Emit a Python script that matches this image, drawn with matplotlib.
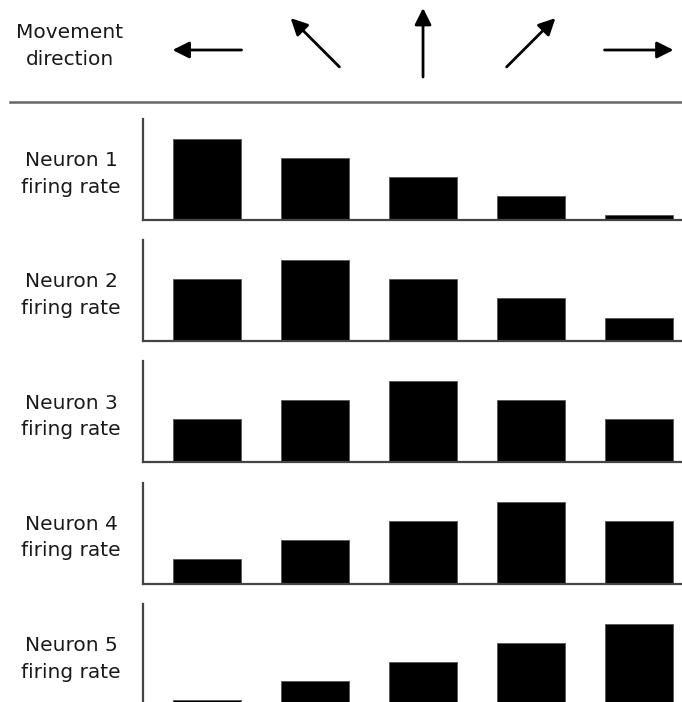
import numpy as np
import matplotlib
matplotlib.use('Agg')
import matplotlib.pyplot as plt
from matplotlib.lines import Line2D


DIRECTIONS = [180, 135, 90, 45, 0]   # movement direction, degrees
NEURONS = ['Neuron 1', 'Neuron 2', 'Neuron 3', 'Neuron 4', 'Neuron 5']
RATES = [
    [81, 62, 43, 24, 5],
    [62, 81, 62, 43, 23],
    [43, 62, 81, 62, 43],
    [25, 44, 63, 82, 63],
    [5, 24, 43, 62, 81],
]

W, H = 682, 702


def px_axes(fig, left, top, right, bottom):
    # axes from image pixel box (y measured from top)
    return fig.add_axes([left / W, 1 - bottom / H, (right - left) / W, (bottom - top) / H])


def main():
    fig = plt.figure(figsize=(W / 100, H / 100), dpi=100)
    plt.rcParams['font.family'] = 'DejaVu Sans'

    axes = []
    for i, (name, rates) in enumerate(zip(NEURONS, RATES)):
        base = 220 + 121.2 * i
        ax = px_axes(fig, 143, base - 101, 682, base)
        x = np.arange(len(rates))
        ax.bar(x, rates, width=0.63, color='black', edgecolor='#555555', linewidth=0.6)
        ax.set_xlim(-0.593, 4.398)
        ax.set_ylim(0, 101)
        for s in ('top', 'right'):
            ax.spines[s].set_visible(False)
        for s in ('left', 'bottom'):
            ax.spines[s].set_color('#444444')
            ax.spines[s].set_linewidth(1.6)
        ax.set_xticks([])
        ax.set_yticks([])
        fig.text(71 / W, 1 - (base - 46) / H, name + '\nfiring rate', ha='center', va='center',
                 fontsize=14.5, color='#1a1a1a', linespacing=1.5)
        axes.append(ax)

    fig.canvas.draw()

    # header: movement direction arrows above each column
    fig.text(70 / W, 1 - 46 / H, 'Movement\ndirection', ha='center', va='center',
             fontsize=14.5, color='#1a1a1a', linespacing=1.5)
    length = 69
    for i, ang in enumerate(DIRECTIONS):
        cx = axes[0].transData.transform((i, 0))[0]
        cy = H - (50 if ang in (0, 180) else 42.5)
        dx = length / 2 * np.cos(np.radians(ang))
        dy = length / 2 * np.sin(np.radians(ang))
        fig.add_artist(plt.Annotation(
            '', xy=(cx + dx, cy + dy), xytext=(cx - dx, cy - dy),
            xycoords='figure pixels', textcoords='figure pixels',
            arrowprops=dict(arrowstyle='-|>,head_length=1.0,head_width=0.5',
                            color='black', lw=2, shrinkA=0, shrinkB=0)))

    fig.add_artist(Line2D([10 / W, 1], [1 - 102 / H, 1 - 102 / H], color='#666666', linewidth=1.8))

    fig.savefig('out.png', dpi=100)


if __name__ == '__main__':
    main()
